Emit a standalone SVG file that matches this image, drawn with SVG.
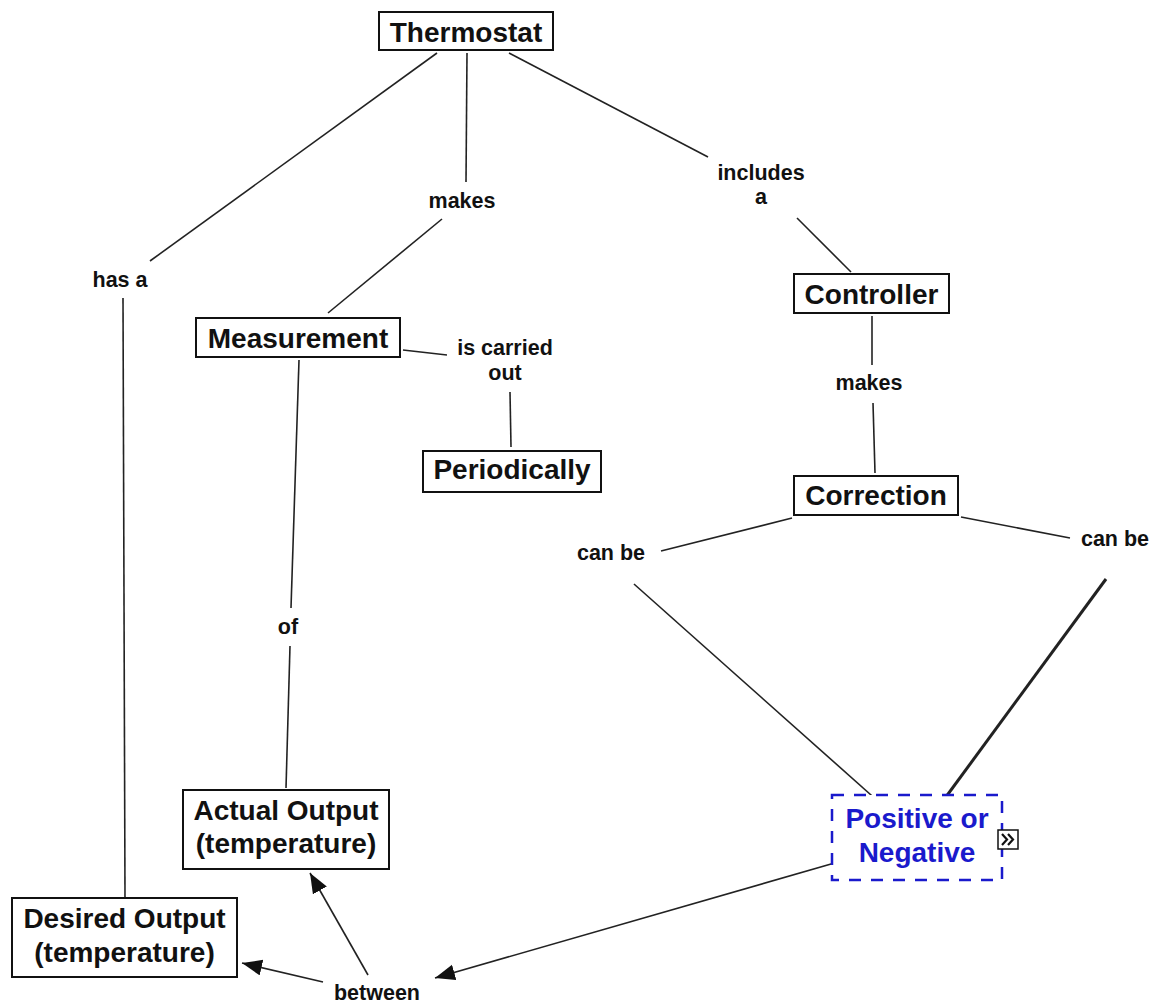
<svg xmlns="http://www.w3.org/2000/svg" width="1155" height="1003" viewBox="0 0 1155 1003">
  <style>
    .node rect { fill: #ffffff; stroke: #111111; stroke-width: 2; }
    .nt { font-family: "Liberation Sans", Arial, sans-serif; font-weight: bold; font-size: 28px; fill: #111111; text-anchor: middle; }
    .lbl { font-family: "Liberation Sans", Arial, sans-serif; font-weight: bold; font-size: 21.5px; fill: #111111; text-anchor: middle; }
    .conn line { stroke: #222222; stroke-width: 1.6; fill: none; }
    .blue rect { fill: #ffffff; stroke: #1a1acc; stroke-width: 2.5; stroke-dasharray: 12 10; }
    .bt { fill: #1a1acc; }
  </style>
  <defs>
    <marker id="arr" markerUnits="userSpaceOnUse" markerWidth="22" markerHeight="18" refX="20" refY="8" orient="auto">
      <path d="M0,0 L20,8 L0,16 Z" fill="#111111"/>
    </marker>
  </defs>
  <rect x="0" y="0" width="1155" height="1003" fill="#ffffff"/>

  <g id="connectors" class="conn">
    <line x1="437" y1="53" x2="150" y2="261"/>
    <line x1="123" y1="298" x2="125" y2="897"/>
    <line x1="467" y1="53" x2="466" y2="182"/>
    <line x1="442" y1="219" x2="328" y2="313"/>
    <line x1="509" y1="53" x2="708" y2="157"/>
    <line x1="797" y1="218" x2="851" y2="272"/>
    <line x1="403" y1="350" x2="447" y2="355"/>
    <line x1="510" y1="392" x2="511" y2="447"/>
    <line x1="299" y1="360" x2="291" y2="608"/>
    <line x1="290" y1="646" x2="286" y2="788"/>
    <line x1="872" y1="316" x2="872" y2="365"/>
    <line x1="873" y1="403" x2="875" y2="473"/>
    <line x1="792" y1="518" x2="661" y2="551"/>
    <line x1="634" y1="584" x2="880" y2="803"/>
    <line x1="961" y1="517" x2="1070" y2="538"/>
    <line x1="1106" y1="579" x2="940" y2="805" style="stroke-width:3"/>
    <line x1="838" y1="862" x2="435" y2="978" marker-end="url(#arr)"/>
    <line x1="368" y1="975" x2="310" y2="873" marker-end="url(#arr)"/>
    <line x1="323" y1="982" x2="242" y2="963" marker-end="url(#arr)"/>
  </g>

  <g id="labels">
    <text class="lbl" x="462" y="208">makes</text>
    <text class="lbl" x="761" y="180">includes</text>
    <text class="lbl" x="761" y="204">a</text>
    <text class="lbl" x="120" y="287">has a</text>
    <text class="lbl" x="505" y="355">is carried</text>
    <text class="lbl" x="505" y="380">out</text>
    <text class="lbl" x="288" y="634">of</text>
    <text class="lbl" x="869" y="390">makes</text>
    <text class="lbl" x="611" y="560">can be</text>
    <text class="lbl" x="1115" y="546">can be</text>
    <text class="lbl" x="377" y="1000">between</text>
  </g>

  <g id="thermostat" class="node">
    <rect x="379" y="12" width="174" height="38"/>
    <text class="nt" x="466" y="42">Thermostat</text>
  </g>
  <g id="measurement" class="node">
    <rect x="196" y="318" width="204" height="39"/>
    <text class="nt" x="298" y="348">Measurement</text>
  </g>
  <g id="periodically" class="node">
    <rect x="423" y="451" width="178" height="41"/>
    <text class="nt" x="512" y="479">Periodically</text>
  </g>
  <g id="controller" class="node">
    <rect x="794" y="274" width="155" height="39"/>
    <text class="nt" x="871.5" y="304">Controller</text>
  </g>
  <g id="correction" class="node">
    <rect x="794" y="476" width="164" height="39"/>
    <text class="nt" x="876" y="505">Correction</text>
  </g>
  <g id="actual-output" class="node">
    <rect x="183" y="790" width="206" height="79"/>
    <text class="nt" x="286" y="820">Actual Output</text>
    <text class="nt" x="286" y="853">(temperature)</text>
  </g>
  <g id="desired-output" class="node">
    <rect x="12" y="898" width="225" height="79"/>
    <text class="nt" x="124.5" y="928">Desired Output</text>
    <text class="nt" x="124.5" y="962">(temperature)</text>
  </g>
  <g id="positive-or-negative" class="blue">
    <rect x="832" y="795" width="170" height="85"/>
    <text class="nt bt" x="917" y="828">Positive or</text>
    <text class="nt bt" x="917" y="862">Negative</text>
    <rect x="998" y="830" width="20" height="19" style="stroke:#111111;stroke-width:1.5;stroke-dasharray:none;fill:#ffffff"/>
    <polyline points="1002,834 1007,839.5 1002,845" fill="none" stroke="#111111" stroke-width="2.2"/>
    <polyline points="1008,834 1013,839.5 1008,845" fill="none" stroke="#111111" stroke-width="2.2"/>
  </g>
</svg>
